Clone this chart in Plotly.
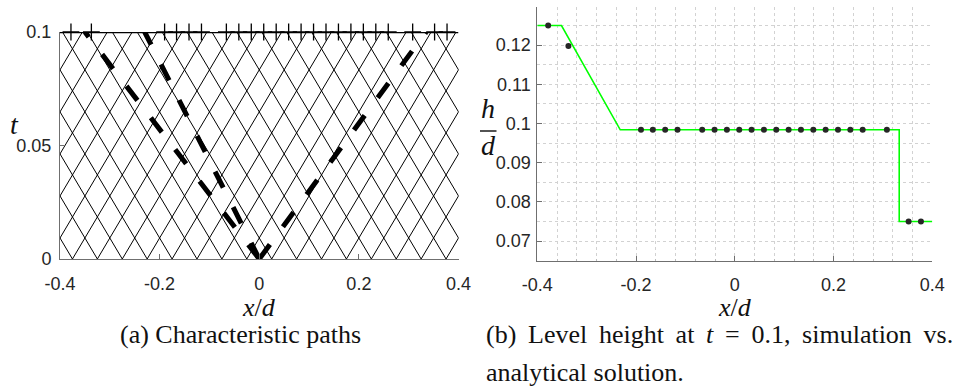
import plotly.graph_objects as go

W, H = 954, 389

# ---- (a) characteristic paths ----
# foot points of the characteristic mesh on t = 0 and its wave speed
mesh_x0 = [-0.675, -0.625, -0.575, -0.525, -0.475, -0.425, -0.375, -0.325,
           -0.275, -0.225, -0.175, -0.125, -0.075, -0.025, 0.025, 0.075,
           0.125, 0.175, 0.225, 0.275, 0.325, 0.375, 0.425, 0.475, 0.525,
           0.575, 0.625, 0.675]
mesh_speed = 2.7
t_end = 0.1

# wave paths leaving the dam at x = 0: position reached at t_end
wave_x_end = [-0.35, -0.23, 0.335]   # rarefaction head, rarefaction tail, bore

# ---- (b) level height at t = 0.1 ----
sim_x = [-0.378, -0.337, -0.19, -0.166, -0.141, -0.116, -0.066, -0.041,
         -0.016, 0.009, 0.034, 0.059, 0.084, 0.109, 0.134, 0.159, 0.184,
         0.209, 0.234, 0.259, 0.308, 0.352, 0.377]
sim_h = [0.125, 0.1198, 0.0984, 0.0984, 0.0984, 0.0984, 0.0984, 0.0984,
         0.0984, 0.0984, 0.0984, 0.0984, 0.0984, 0.0984, 0.0984, 0.0984,
         0.0984, 0.0984, 0.0984, 0.0984, 0.0984, 0.075, 0.075]

exact_x = [-0.4, -0.351, -0.232, 0.333, 0.333, 0.4]
exact_h = [0.125, 0.125, 0.0984, 0.0984, 0.075, 0.075]

x_ticks = [-0.4, -0.2, 0, 0.2, 0.4]
x_ticktext = ["-0.4", "-0.2", "0", "0.2", "0.4"]
ta_ticks = [0, 0.05, 0.1]
ta_ticktext = ["0", "0.05", "0.1"]
h_ticks = [0.07, 0.08, 0.09, 0.1, 0.11, 0.12]
h_ticktext = ["0.07", "0.08", "0.09", "0.1", "0.11", "0.12"]

AX = "#6f6f6f"
TICKFONT = dict(family="Liberation Sans, Arial, sans-serif", size=18, color="#262626")
SERIF = "Liberation Serif, Times New Roman, serif"

fig = go.Figure()

# straight characteristic mesh (both families)
mx, mt = [], []
for x0 in mesh_x0:
    for s in (1, -1):
        mx += [x0, x0 + s * mesh_speed * t_end, None]
        mt += [0, t_end, None]
fig.add_trace(go.Scatter(x=mx, y=mt, mode="lines",
                         line=dict(color="black", width=1),
                         hoverinfo="skip", showlegend=False,
                         xaxis="x", yaxis="y"))

# thick dashed wave paths from the origin
for xe in wave_x_end:
    fig.add_trace(go.Scatter(x=[0, xe], y=[0, t_end], mode="lines",
                             line=dict(color="black", width=5, dash="18px,22px"),
                             showlegend=False, xaxis="x", yaxis="y"))

# line at t = 0.1 with the sample positions
fig.add_trace(go.Scatter(x=[-0.4, 0.4], y=[t_end, t_end], mode="lines",
                         line=dict(color="black", width=2.4),
                         showlegend=False, xaxis="x", yaxis="y", cliponaxis=False))
fig.add_trace(go.Scatter(x=sim_x, y=[t_end] * len(sim_x), mode="markers",
                         marker=dict(symbol="cross-thin", size=12,
                                     line=dict(color="black", width=1.3)),
                         showlegend=False, xaxis="x", yaxis="y", cliponaxis=False))

# analytical solution and simulation
fig.add_trace(go.Scatter(x=exact_x, y=exact_h, mode="lines",
                         line=dict(color="#00ff00", width=1.6),
                         showlegend=False, xaxis="x2", yaxis="y2"))
fig.add_trace(go.Scatter(x=sim_x, y=sim_h, mode="markers",
                         marker=dict(color="#262626", size=6),
                         showlegend=False, xaxis="x2", yaxis="y2"))

def px(v):
    return v / W

def py(v):
    return 1 - v / H

common = dict(showline=True, linecolor=AX, linewidth=1, ticks="inside",
              ticklen=5, tickcolor=AX, tickfont=TICKFONT, zeroline=False,
              mirror=False, automargin=False)

fig.update_layout(
    template="none",
    width=W, height=H, margin=dict(l=0, r=0, t=0, b=0, pad=0, autoexpand=False),
    paper_bgcolor="white", plot_bgcolor="white", showlegend=False,
    xaxis=dict(domain=[px(60), px(458.5)], range=[-0.4, 0.4], anchor="y",
               tickmode="array", tickvals=x_ticks, ticktext=x_ticktext,
               showgrid=False, ticklabelstandoff=8, **common),
    yaxis=dict(domain=[py(259), py(32)], range=[0, 0.1], anchor="x",
               tickmode="array", tickvals=ta_ticks, ticktext=ta_ticktext,
               showgrid=False, ticklabelstandoff=4, **common),
    xaxis2=dict(domain=[px(537.3), px(932.3)], range=[-0.4, 0.4], anchor="y2",
                tickmode="array", tickvals=x_ticks, ticktext=x_ticktext,
                showgrid=True, gridcolor="#d2d2d2", griddash="dot", gridwidth=1,
                minor=dict(tickmode="linear", tick0=0, dtick=0.04, showgrid=True,
                           gridcolor="#d2d2d2", griddash="dot", gridwidth=1,
                           ticks="inside", ticklen=2, tickcolor="#bbbbbb"),
                ticklabelstandoff=8, **common),
    yaxis2=dict(domain=[py(260.7), py(6.7)], range=[0.065, 0.1298], anchor="x2",
                tickmode="array", tickvals=h_ticks, ticktext=h_ticktext,
                showgrid=True, gridcolor="#d2d2d2", griddash="dot", gridwidth=1,
                minor=dict(tickmode="linear", tick0=0, dtick=0.005, showgrid=True,
                           gridcolor="#d2d2d2", griddash="dot", gridwidth=1),
                ticklabelstandoff=2, **common),
)

ann = []
def label(text, x, y, size, xanchor="center"):
    ann.append(dict(text=text, x=px(x), y=py(y), xref="paper", yref="paper",
                    xanchor=xanchor, yanchor="middle", showarrow=False,
                    font=dict(family=SERIF, size=size, color="#111111")))

# justified caption line: slightly widened word gaps
gap = " \u2009"
caption_b1 = gap.join(["(b)", "Level", "height", "at", "<i>t</i>", "=", "0.1,",
                       "simulation", "vs."])

label("<i>x</i>/<i>d</i>", 259, 307, 26)
label("<i>x</i>/<i>d</i>", 735, 307, 26)
label("<i>t</i>", 14, 124, 28)
label("<i>h</i>", 488, 108, 28)
label("<i>d</i>", 488, 146, 28)
label("(a) Characteristic paths", 240, 334, 26)
label(caption_b1, 484, 334, 26, xanchor="left")
label("analytical solution.", 484, 372, 26, xanchor="left")
fig.update_layout(annotations=ann)

# fraction bar of h/d
fig.add_shape(type="line", xref="paper", yref="paper",
              x0=px(480), x1=px(496.5), y0=py(131), y1=py(131),
              line=dict(color="#1a1a1a", width=1.5))

fig.write_html("out.html")
